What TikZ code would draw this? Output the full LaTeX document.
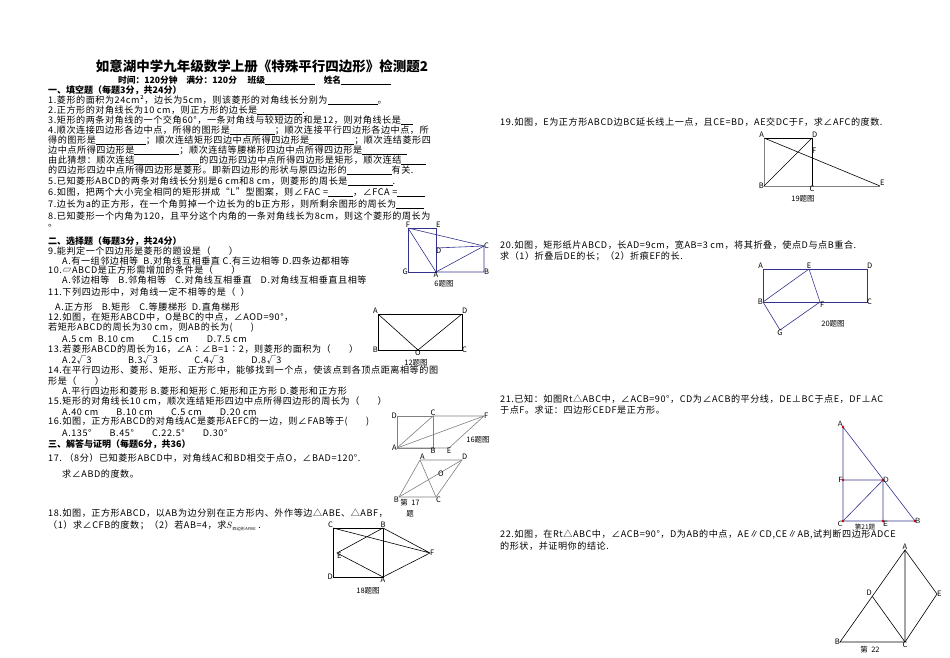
\documentclass[tikz,border=0pt]{standalone}
\usepackage{fontspec}
\setmainfont{Noto Sans CJK SC}
\newfontfamily\spfont[LetterSpace=6]{Noto Sans CJK SC}
\newcommand{\blank}[1]{\rule[-1.5pt]{#1pt}{0.4pt}}
\begin{document}
\begin{tikzpicture}[x=1pt,y=-1pt,
  txt/.style={anchor=west,inner sep=0pt,font=\spfont\fontsize{9.1}{9}\selectfont},
  hd/.style={anchor=west,inner sep=0pt,font=\fontsize{9}{9}\selectfont\bfseries},
  lab/.style={inner sep=0pt,font=\fontsize{7.5}{8}\selectfont},
  fig/.style={line width=0.6pt},
  blu/.style={line width=0.6pt,draw=blue!45!black!80},
  gry/.style={line width=0.6pt,draw=gray}]
\useasboundingbox (0,0) rectangle (950,658);
\fill[white] (0,0) rectangle (950,658);
% title
\node[anchor=center,inner sep=0pt,font=\fontsize{13.5}{14}\selectfont\bfseries] (title) at (262,66) {如意湖中学九年级数学上册《特殊平行四边形》检测题2};
\node[anchor=west,inner sep=0pt,font=\fontsize{8.7}{9}\selectfont\bfseries] (sub) at (118,80) {时间：120分钟\quad 满分：120分\quad\ 班级\blank{50}\quad 姓名\blank{50}};
\node[hd] (h1) at (48,90) {一、填空题（每题3分，共24分）};
\node[txt] (l1) at (48,100) {1.菱形的面积为24cm²，边长为5cm，则该菱形的对角线长分别为\blank{50}。};
\node[txt] (l2) at (48,110) {2.正方形的对角线长为10 cm，则正方形的边长是\blank{45}.};
\node[txt] (l3) at (48,120) {3.矩形的两条对角线的一个交角60°，一条对角线与较短边的和是12，则对角线长是\blank{12}};
\node[txt] (l4) at (48,130) {4.顺次连接四边形各边中点，所得的图形是\blank{45}；顺次连接平行四边形各边中点，所};
\node[txt] (l5) at (48,140) {得的图形是\blank{50}；顺次连结矩形四边中点所得四边形是\blank{45}；顺次连结菱形四};
\node[txt] (l6) at (48,150) {边中点所得四边形是\blank{45}；顺次连结等腰梯形四边中点所得四边形是\blank{45}};
\node[txt] (l7) at (48,160) {由此猜想：顺次连结\blank{65}的四边形四边中点所得四边形是矩形，顺次连结\blank{25}};
\node[txt] (l8) at (48,170) {的四边形四边中点所得四边形是菱形。即新四边形的形状与原四边形的\blank{45}有关.};
\node[txt] (l9) at (48,181) {5.已知菱形ABCD的两条对角线长分别是6 cm和8 cm，则菱形的周长是\blank{45}.};
\node[txt] (l10) at (48,192) {6.如图，把两个大小完全相同的矩形拼成“L”型图案，则∠FAC =\blank{25}，∠FCA =\blank{28}};
\node[txt] (l11) at (48,204) {7.边长为\textit{a}的正方形，在一个角剪掉一个边长为的\textit{b}正方形，则所剩余图形的周长为\blank{28}};
\node[txt] (l12) at (48,216) {8.已知菱形一个内角为120，且平分这个内角的一条对角线长为8cm，则这个菱形的周长为};
\node[txt] (l13) at (48,226) {。};
\node[hd] (h2) at (48,241) {二、选择题（每题3分，共24分）};
\node[txt] (l14) at (48,251) {9.能判定一个四边形是菱形的题设是（\qquad）};
\node[txt] (l15) at (62,261) {A.有一组邻边相等\ \ B.对角线互相垂直 C.有三边相等 D.四条边都相等};
\node[txt] (l16) at (48,270) {10.▱ABCD是正方形需增加的条件是（\qquad）};
\node[txt] (l17) at (62,280) {A.邻边相等\quad B.邻角相等\quad C.对角线互相垂直\quad D.对角线互相垂直且相等};
\node[txt] (l18) at (48,292) {11.下列四边形中，对角线一定不相等的是（\ \ ）};
\node[txt] (l19) at (55,307) {A.正方形\quad B.矩形\quad C.等腰梯形\ \ D.直角梯形};
\node[txt] (l20) at (48,317) {12.如图，在矩形ABCD中，O是BC的中点，∠AOD=90°，};
\node[txt] (l21) at (48,328) {若矩形ABCD的周长为30 cm，则AB的长为(\qquad)};
\node[txt] (l22) at (62,339) {A.5 cm\ \ B.10 cm\qquad C.15 cm\qquad D.7.5 cm};
\node[txt] (l23) at (48,349) {13.若菱形ABCD的周长为16，∠A∶∠B=1∶2，则菱形的面积为（\qquad）};
\node[txt] (l24) at (62,360) {A.2√3\qquad\qquad B.3√3\qquad\qquad C.4√3\qquad\quad D.8√3};
\node[txt] (l25) at (48,370) {14.在平行四边形、菱形、矩形、正方形中，能够找到一个点，使该点到各顶点距离相等的图};
\node[txt] (l26) at (48,381) {形是（\qquad）};
\node[txt] (l27) at (62,391) {A.平行四边形和菱形 B.菱形和矩形 C.矩形和正方形 D.菱形和正方形};
\node[txt] (l28) at (48,401) {15.矩形的对角线长10 cm，顺次连结矩形四边中点所得四边形的周长为（\qquad）};
\node[txt] (l29) at (62,412) {A.40 cm\qquad B.10 cm\qquad C.5 cm\qquad D.20 cm};
\node[txt] (l30) at (48,422) {16.如图，正方形ABCD的对角线AC是菱形AEFC的一边，则∠FAB等于(\qquad)};
\node[txt] (l31) at (62,433) {A.135°\qquad B.45°\qquad C.22.5°\qquad D.30°};
\node[hd] (h3) at (48,444) {三、解答与证明（每题6分，共36）};
\node[txt] (l32) at (48,458) {17.\ （8分）已知菱形ABCD中，对角线AC和BD相交于点O，∠BAD=120°.};
\node[txt] (l33) at (62,474) {求∠ABD的度数。};
\node[txt] (l34) at (48,513) {18.如图，正方形ABCD，以AB为边分别在正方形内、外作等边△ABE、△ABF，};
\node[txt] (l35) at (48,526) {（1）求∠CFB的度数；（2）若AB=4，求$S$\raisebox{-2pt}{\fontsize{4}{4}\selectfont 四边形AFBE}\ .};
% right column
\node[txt] (r1) at (500,122) {19.如图，E为正方形ABCD边BC延长线上一点，且CE=BD，AE交DC于F，求∠AFC的度数.};
\node[txt] (r2) at (500,245) {20.如图，矩形纸片ABCD，长AD=9cm，宽AB=3 cm，将其折叠，使点D与点B重合.};
\node[txt] (r3) at (500,256) {求（1）折叠后DE的长；（2）折痕EF的长.};
\node[txt] (r4) at (500,399) {21.已知：如图Rt△ABC中，∠ACB=90°，CD为∠ACB的平分线，DE⊥BC于点E，DF⊥AC};
\node[txt] (r5) at (500,410) {于点F。求证：四边形CEDF是正方形。};
\node[txt] (r6) at (500,535) {22.如图，在Rt△ABC中，∠ACB=90°，D为AB的中点，AE∥CD,CE∥AB,试判断四边形ADCE};
\node[txt] (r7) at (500,546) {的形状，并证明你的结论.};
% fig 6
\coordinate (F6) at (408,228); \coordinate (E6) at (436,228); \coordinate (D6) at (436,248);
\coordinate (C6) at (484,246); \coordinate (B6) at (484,272); \coordinate (A6) at (436,272); \coordinate (G6) at (408,272);
\draw[blu] (G6)--(F6)--(E6)--(A6)--cycle; \draw[blu] (D6)--(C6)--(B6)--(A6);
\draw[blu] (F6)--(A6) (F6)--(C6) (A6)--(C6);
\node[lab,above] (nF6) at (F6) {F}; \node[lab,above right] (nE6) at (E6) {E}; \node[lab,below right] (nD6) at (D6) {D};
\node[lab,right] (nC6) at (C6) {C}; \node[lab,right] (nB6) at (B6) {B}; \node[lab,below] (nA6) at (A6) {A}; \node[lab,left] (nG6) at (G6) {G};
\node[lab] (cap6) at (444,284) {6题图};
% fig 12
\coordinate (A12) at (378,314); \coordinate (D12) at (462,314); \coordinate (B12) at (378,350); \coordinate (C12) at (462,350); \coordinate (O12) at (418,350);
\draw[fig] (A12)--(D12)--(C12)--(B12)--cycle; \draw[fig] (A12)--(O12)--(D12);
\node[lab,above left] (nA12) at (A12) {A}; \node[lab,above right] (nD12) at (D12) {D}; \node[lab,left] (nB12) at (B12) {B};
\node[lab,right] (nC12) at (C12) {C}; \node[lab,below] (nO12) at (O12) {O};
\node[lab] (cap12) at (416,363) {12题图};
% fig 16
\coordinate (D16) at (397,416); \coordinate (C16) at (433,416); \coordinate (F16) at (484,416);
\coordinate (A16) at (397,448); \coordinate (B16) at (433,448); \coordinate (E16) at (449,448);
\draw[gry] (A16)--(B16)--(C16)--(D16)--cycle; \draw[gry] (A16)--(E16)--(F16)--(C16)--cycle; \draw[gry] (A16)--(F16);
\node[lab,left] (nD16) at (D16) {\textit{D}}; \node[lab,above] (nC16) at (C16) {\textit{C}}; \node[lab,right] (nF16) at (F16) {\textit{F}};
\node[lab,left] (nA16) at (A16) {\textit{A}}; \node[lab,below] (nB16) at (B16) {\textit{B}}; \node[lab,below] (nE16) at (E16) {\textit{E}};
\node[lab] (cap16) at (478,440) {16题图};
% fig 17
\coordinate (A17) at (420,460); \coordinate (D17) at (462,460); \coordinate (B17) at (399,497); \coordinate (C17) at (436,497);
\draw[gry] (A17)--(D17)--(C17)--(B17)--cycle; \draw[gry] (A17)--(C17) (B17)--(D17);
\node[lab,above right] (nA17) at (A17) {A}; \node[lab,above right] (nD17) at (D17) {D};
\node[lab,below left] (nB17) at (B17) {B}; \node[lab,below right] (nC17) at (C17) {C};
\node[lab] (nO17) at (441,474) {O};
\node[lab] (cap17a) at (410,503) {第\ \ 17}; \node[lab] (cap17b) at (410,514) {题};
% fig 18
\coordinate (C18) at (333,528); \coordinate (B18) at (383,528); \coordinate (A18) at (383,577); \coordinate (D18) at (333,577);
\coordinate (E18) at (337,553); \coordinate (F18) at (430,553);
\draw[fig] (C18)--(B18)--(A18)--(D18)--cycle; \draw[fig] (C18)--(F18) (B18)--(F18)--(A18) (B18)--(E18)--(A18);
\node[lab,above left] (nC18) at (C18) {C}; \node[lab,above] (nB18) at (B18) {B}; \node[lab,below] (nA18) at (A18) {A};
\node[lab,left] (nD18) at (D18) {D}; \node[lab,below right] (nE18) at (E18) {E}; \node[lab,right] (nF18) at (F18) {F};
\node[lab] (cap18) at (368,591) {18题图};
% fig 19
\coordinate (A19) at (764,138); \coordinate (D19) at (812,138); \coordinate (B19) at (764,186); \coordinate (C19) at (812,186); \coordinate (E19) at (880,186);
\draw[fig] (A19)--(D19)--(C19); \draw[gry] (A19)--(B19)--(E19); \draw[fig] (B19)--(D19) (A19)--(E19);
\node[lab,above left] (nA19) at (A19) {A}; \node[lab,above right] (nD19) at (D19) {D}; \node[lab,left] (nB19) at (B19) {B};
\node[lab,below] (nC19) at (C19) {C}; \node[lab,above right] (nE19) at (E19) {E}; \node[lab,right] (nF19) at (812,151) {F};
\node[lab] (cap19) at (803,199) {19题图};
% fig 20
\coordinate (A20) at (763,269); \coordinate (D20) at (867,269); \coordinate (B20) at (763,302); \coordinate (C20) at (867,302);
\coordinate (E20) at (809,269); \coordinate (F20) at (820,302); \coordinate (G20) at (780,330);
\draw[blu] (A20)--(D20)--(C20)--(B20)--cycle; \draw[blu] (B20)--(E20)--(F20) (B20)--(G20)--(F20);
\node[lab,above left] (nA20) at (A20) {A}; \node[lab,above] (nE20) at (E20) {E}; \node[lab,above right] (nD20) at (D20) {D};
\node[lab,left] (nB20) at (B20) {B}; \node[lab,right] (nC20) at (C20) {C}; \node[lab,below right] (nF20) at (F20) {F};
\node[lab,below] (nG20) at (G20) {G};
\node[lab] (cap20) at (833,324) {20题图};
% fig 21
\coordinate (A21) at (843,427); \coordinate (F21) at (843,480); \coordinate (D21) at (883,480);
\coordinate (C21) at (843,521); \coordinate (E21) at (883,521); \coordinate (B21) at (915,521);
\draw[blu] (A21)--(C21)--(B21)--cycle; \draw[blu] (F21)--(D21)--(E21) (C21)--(D21);
\foreach \p in {A21,F21,D21,C21,E21,B21} \fill[red!80!black] (\p) circle (1.3pt);
\node[lab,above left] (nA21) at (A21) {\sffamily A}; \node[lab,left] (nF21) at (F21) {\sffamily F}; \node[lab,right] (nD21) at (D21) {\sffamily D};
\node[lab,below left] (nC21) at (C21) {\sffamily C}; \node[lab,below right] (nE21) at (E21) {\sffamily E}; \node[lab,right] (nB21) at (B21) {\sffamily B};
\node[lab,font=\fontsize{6.5}{7}\selectfont] (cap21) at (865,527) {第21题};
% fig 22
\coordinate (A22) at (905,550); \coordinate (E22) at (937,594); \coordinate (D22) at (872,596);
\coordinate (B22) at (840,642); \coordinate (C22) at (905,642);
\draw[fig] (A22)--(B22)--(C22)--cycle; \draw[fig] (A22)--(E22)--(C22) (D22)--(C22);
\node[lab,above] (nA22) at (A22) {A}; \node[lab,right] (nE22) at (E22) {E}; \node[lab,above left] (nD22) at (D22) {D};
\node[lab,left] (nB22) at (B22) {B}; \node[lab,below] (nC22) at (C22) {C};
\node[lab] (cap22) at (870,650) {第\ \ 22};
\end{tikzpicture}
\end{document}
